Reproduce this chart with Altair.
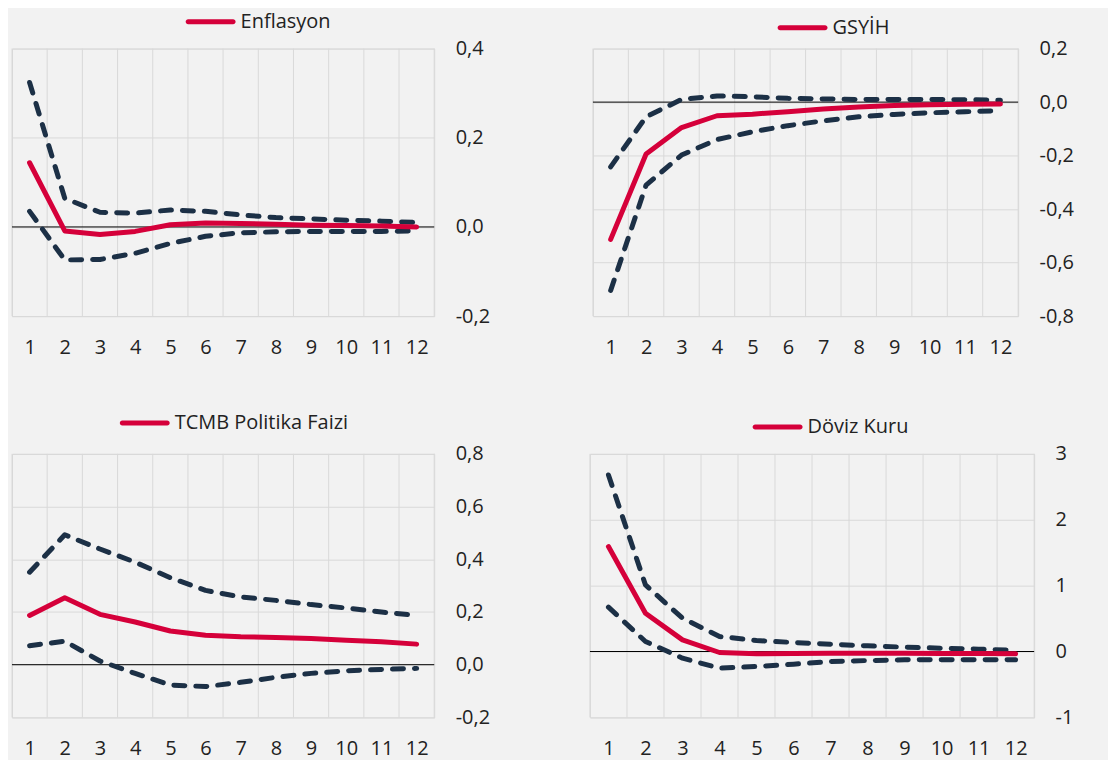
import altair as alt
import pandas as pd

periods = list(range(1, 13))

enf_name = "Enflasyon"
enf_mid = [0.144, -0.009, -0.017, -0.010, 0.005, 0.009, 0.008, 0.006, 0.004, 0.003, 0.002, 0.000]
enf_up = [0.324, 0.064, 0.033, 0.031, 0.038, 0.035, 0.027, 0.021, 0.018, 0.015, 0.013, 0.010]
enf_lo = [0.035, -0.074, -0.073, -0.059, -0.037, -0.021, -0.013, -0.011, -0.010, -0.010, -0.010, -0.009]

gsy_name = "GSYİH"
gsy_mid = [-0.513, -0.194, -0.095, -0.051, -0.045, -0.036, -0.026, -0.018, -0.013, -0.010, -0.008, -0.007]
gsy_up = [-0.242, -0.055, 0.010, 0.023, 0.020, 0.014, 0.012, 0.010, 0.010, 0.010, 0.009, 0.007]
gsy_lo = [-0.704, -0.310, -0.198, -0.140, -0.111, -0.088, -0.070, -0.055, -0.046, -0.040, -0.036, -0.032]

fai_name = "TCMB Politika Faizi"
fai_mid = [0.187, 0.254, 0.191, 0.162, 0.128, 0.112, 0.106, 0.103, 0.099, 0.093, 0.087, 0.078]
fai_up = [0.351, 0.493, 0.439, 0.389, 0.330, 0.282, 0.257, 0.244, 0.228, 0.215, 0.200, 0.187]
fai_lo = [0.072, 0.089, 0.014, -0.033, -0.077, -0.083, -0.067, -0.048, -0.033, -0.023, -0.018, -0.014]

kur_name = "Döviz Kuru"
kur_mid = [1.593, 0.580, 0.177, -0.015, -0.035, -0.030, -0.025, -0.025, -0.025, -0.030, -0.030, -0.035]
kur_up = [2.68, 1.01, 0.506, 0.228, 0.167, 0.137, 0.111, 0.086, 0.066, 0.050, 0.035, 0.020]
kur_lo = [0.673, 0.152, -0.101, -0.253, -0.228, -0.192, -0.152, -0.137, -0.126, -0.126, -0.126, -0.126]

enf_ticks = [-0.2, 0.0, 0.2, 0.4]
gsy_ticks = [-0.8, -0.6, -0.4, -0.2, 0.0, 0.2]
fai_ticks = [-0.2, 0.0, 0.2, 0.4, 0.6, 0.8]
kur_ticks = [-1, 0, 1, 2, 3]

RED = "#d5003a"
NAVY = "#1c3046"
GRID = "#d9d9d9"
FONT = "Open Sans"
TXT = "#222222"
# legend swatch: a rounded bar (units scaled by sqrt(symbolSize)/2)
SWATCH = "M-3.75,-0.25H0.75A0.25,0.25 0 0 1 0.75,0.25H-3.75A0.25,0.25 0 0 1 -3.75,-0.25Z"


def panel(name, mid, up, lo, yticks, decimal, width, height, lx, ly):
    df = pd.DataFrame({
        "period": periods * 3,
        "value": mid + up + lo,
        "series": [name] * 12 + ["upper"] * 12 + ["lower"] * 12,
    })
    bounds = pd.DataFrame({"period": [p - 0.5 for p in periods] + [12.5]})
    zero = pd.DataFrame({"value": [0.0]})
    if decimal:
        lab = "replace(replace(format(datum.value, '.1f'), '.', ','), '\u2212', '-')"
    else:
        lab = "replace(format(datum.value, 'd'), '\u2212', '-')"
    x_enc = alt.X("period:Q",
                  scale=alt.Scale(domain=[0.5, 12.5], nice=False, zero=False),
                  axis=alt.Axis(values=periods, title=None, grid=False, ticks=False, domain=False,
                                labelPadding=21, labelFontSize=20, labelFont=FONT, labelColor=TXT,
                                labelFlush=False))
    y_enc = alt.Y("value:Q",
                  scale=alt.Scale(domain=[yticks[0], yticks[-1]], nice=False, zero=False),
                  axis=alt.Axis(orient="right", values=yticks, title=None, grid=True, gridColor=GRID,
                                gridWidth=1, ticks=False, domain=False, labelPadding=21,
                                labelFontSize=20, labelFont=FONT, labelColor=TXT, labelExpr=lab,
                                labelFlush=False))
    vgrid = alt.Chart(bounds).mark_rule(color=GRID, strokeWidth=1).encode(x=x_enc)
    zline = alt.Chart(zero).mark_rule(color="#000000", strokeWidth=1).encode(y=y_enc)
    band = alt.Chart(df).transform_filter(alt.datum.series != name).mark_line(
        color=NAVY, strokeWidth=5, strokeDash=[11, 11], strokeCap="round", strokeJoin="round"
    ).encode(x=x_enc, y=y_enc, detail="series:N")
    line = alt.Chart(df).transform_filter(alt.datum.series == name).mark_line(
        strokeWidth=5, strokeCap="round", strokeJoin="round"
    ).encode(
        x=x_enc, y=y_enc,
        color=alt.Color("series:N", scale=alt.Scale(domain=[name], range=[RED]),
                        legend=alt.Legend(title=None, orient="none", legendX=lx, legendY=ly,
                                          symbolType=SWATCH, symbolSize=400, symbolStrokeWidth=0,
                                          symbolFillColor=RED,
                                          labelFontSize=20, labelFont=FONT, labelColor=TXT,
                                          labelOffset=5, labelLimit=600, padding=0)),
    )
    return alt.layer(vgrid, zline, band, line).properties(width=width, height=height)


p1 = panel(enf_name, enf_mid, enf_up, enf_lo, enf_ticks, True, 423, 268, 204, -37)
p2 = panel(gsy_name, gsy_mid, gsy_up, gsy_lo, gsy_ticks, True, 426, 268, 215, -31)
p3 = panel(fai_name, fai_mid, fai_up, fai_lo, fai_ticks, True, 423, 264, 138, -41)
p4 = panel(kur_name, kur_mid, kur_up, kur_lo, kur_ticks, False, 445, 264, 193, -37)

row1 = alt.hconcat(p1, p2, spacing=102).resolve_scale(color="independent", x="independent", y="independent")
row2 = alt.hconcat(p3, p4, spacing=99).resolve_scale(color="independent", x="independent", y="independent")

chart = alt.vconcat(row1, row2, spacing=54).resolve_scale(
    color="independent", x="independent", y="independent"
).properties(
    background="#f2f2f2",
    padding={"left": 3, "top": 2, "right": 34, "bottom": 0},
).configure_view(stroke=GRID, strokeWidth=1, fill="#f2f2f2")

chart.save("out.html", embed_options={"renderer": "svg", "actions": False})
